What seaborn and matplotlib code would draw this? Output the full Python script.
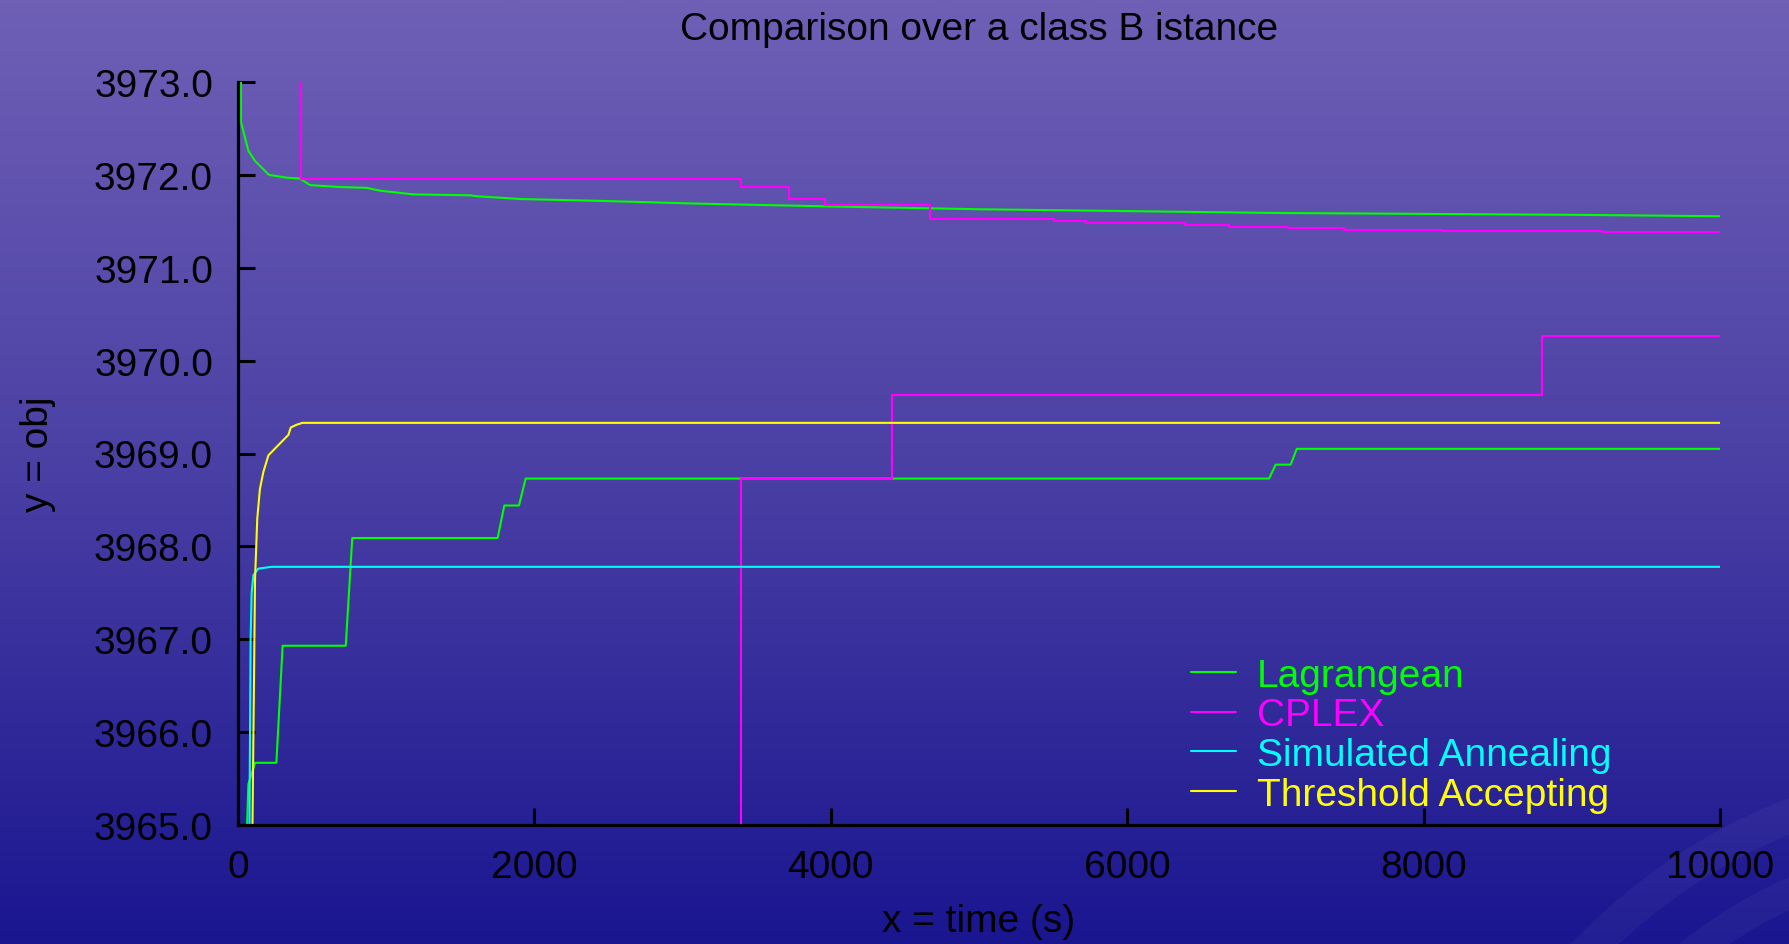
import numpy as np
import pandas as pd
import matplotlib
matplotlib.use("Agg")
import matplotlib.pyplot as plt
import seaborn as sns
from matplotlib.patches import Wedge
from matplotlib.lines import Line2D
from matplotlib.ticker import FormatStrFormatter
from matplotlib.colors import LinearSegmentedColormap

sns.set_theme(style="ticks")
plt.rcParams['font.family'] = ['Liberation Sans', 'DejaVu Sans']

# ---------------- data ----------------
lag_upper_t = [20, 20, 70, 115, 209, 328, 418, 486, 677, 868, 958, 1183, 1565, 1610,
               1903, 2443, 3117, 4000, 5000, 6000, 7000, 8000, 9000, 10000]
lag_upper_v = [3973.2, 3972.57, 3972.26, 3972.15, 3972.00, 3971.97, 3971.96, 3971.89,
               3971.87, 3971.86, 3971.83, 3971.79, 3971.78, 3971.77, 3971.74, 3971.72,
               3971.69, 3971.66, 3971.63, 3971.61, 3971.59, 3971.58, 3971.57, 3971.555]

lag_lower_t = [59, 70, 115, 259, 301, 727, 771, 1752, 1797, 1896, 1941, 6957, 7002,
               7103, 7144, 10000]
lag_lower_v = [3964.9, 3965.44, 3965.67, 3965.67, 3966.93, 3966.93, 3968.09, 3968.09,
               3968.44, 3968.44, 3968.73, 3968.73, 3968.88, 3968.88, 3969.05, 3969.05]

cplex_upper_t = [425, 425, 3397, 3718, 3958, 4672, 5300, 5503, 5725, 6390, 6687, 7085,
                 7463, 8125, 9204, 10000]
cplex_upper_v = [3974.0, 3971.96, 3971.87, 3971.74, 3971.68, 3971.53, 3971.52, 3971.50,
                 3971.48, 3971.46, 3971.44, 3971.43, 3971.41, 3971.40, 3971.38, 3971.37]

cplex_lower_t = [3396, 3396, 4415, 8801, 10000]
cplex_lower_v = [3964.0, 3968.73, 3969.63, 3970.27, 3970.27]

sa_t = [77, 85, 92, 104, 137, 227, 10000]
sa_v = [3964.9, 3967.0, 3967.5, 3967.69, 3967.76, 3967.78, 3967.78]

ta_t = [97, 115, 130, 148, 171, 205, 272, 340, 356, 396, 436, 10000]
ta_v = [3964.9, 3967.65, 3968.30, 3968.62, 3968.80, 3968.98, 3969.09, 3969.20,
        3969.28, 3969.31, 3969.33, 3969.33]

methods = ["Lagrangean", "CPLEX", "Simulated Annealing", "Threshold Accepting"]
colors = ["#00FF00", "#FF00FF", "#00FFFF", "#FFFF00"]
x_ticks = [0, 2000, 4000, 6000, 8000, 10000]
y_ticks = [3965.0, 3966.0, 3967.0, 3968.0, 3969.0, 3970.0, 3971.0, 3972.0, 3973.0]


def frame(method, part, t, v):
    return pd.DataFrame({"method": method, "part": part, "time": t, "obj": v})


df_lag = pd.concat([frame("Lagrangean", "upper", lag_upper_t, lag_upper_v),
                    frame("Lagrangean", "lower", lag_lower_t, lag_lower_v)])
df_cplex = pd.concat([frame("CPLEX", "upper", cplex_upper_t, cplex_upper_v),
                      frame("CPLEX", "lower", cplex_lower_t, cplex_lower_v)])
df_sa = frame("Simulated Annealing", "only", sa_t, sa_v)
df_ta = frame("Threshold Accepting", "only", ta_t, ta_v)

# ---------------- figure ----------------
W, H = 1790, 945
fig = plt.figure(figsize=(W / 100, H / 100), dpi=100)

bg = fig.add_axes([0, 0, 1, 1], zorder=-10)
grad = np.linspace(0, 1, 512)[:, None]
cmap = LinearSegmentedColormap.from_list("bg", ["#6F60B6", "#4A3FA4", "#1A1690"])
bg.imshow(grad, aspect="auto", cmap=cmap, extent=[0, W, H, 0])
for r, w in [(590, 34), (517, 30)]:
    bg.add_patch(Wedge((2000, 1350), r, 0, 360, width=w, facecolor="white",
                       alpha=0.04, edgecolor="none"))
bg.set_xlim(0, W)
bg.set_ylim(H, 0)
bg.axis("off")

L, R, T, B = 238, 1720, 83, 826
ax = fig.add_axes([L / W, 1 - B / H, (R - L) / W, (B - T) / H])
ax.set_facecolor("none")

lw = 1.5
sns.lineplot(data=df_lag, x="time", y="obj", units="part", estimator=None, sort=False,
             color=colors[0], lw=lw, ax=ax, legend=False)
sns.lineplot(data=df_cplex, x="time", y="obj", units="part", estimator=None, sort=False,
             color=colors[1], lw=lw, ax=ax, legend=False, drawstyle="steps-post")
sns.lineplot(data=df_sa, x="time", y="obj", estimator=None, sort=False,
             color=colors[2], lw=lw, ax=ax, legend=False)
sns.lineplot(data=df_ta, x="time", y="obj", estimator=None, sort=False,
             color=colors[3], lw=lw, ax=ax, legend=False)

FS = 28
ax.set_xlim(0, 10000)
ax.set_ylim(3965, 3973)
ax.set_xticks(x_ticks)
ax.set_yticks(y_ticks)
ax.yaxis.set_major_formatter(FormatStrFormatter("%.1f"))
for s in ["top", "right"]:
    ax.spines[s].set_visible(False)
for s in ["left", "bottom"]:
    ax.spines[s].set_color("black")
    ax.spines[s].set_linewidth(2.3)
ax.tick_params(axis="both", direction="in", length=12, width=2.2, color="black",
               labelsize=FS, labelcolor="black")
ax.tick_params(axis="y", pad=18)
ax.tick_params(axis="x", pad=17)

ax.set_xlabel("x = time (s)", fontsize=FS, color="black", labelpad=13)
ax.set_ylabel("y = obj", fontsize=FS, color="black", labelpad=27)

fig.text((L + R) / 2 / W, 1 - 40 / H, "Comparison over a class B istance", ha="center",
         va="baseline", fontsize=FS, color="black")

handles = [Line2D([], [], color=c, lw=lw) for c in colors]
ax.legend(handles, methods, loc="upper left", bbox_to_anchor=(1191 / W, 1 - 659 / H),
          bbox_transform=fig.transFigure, frameon=False, fontsize=FS,
          labelcolor="linecolor", handlelength=1.15, handletextpad=0.55,
          labelspacing=0.09, borderpad=0, borderaxespad=0)

fig.savefig("out.png", dpi=100)
